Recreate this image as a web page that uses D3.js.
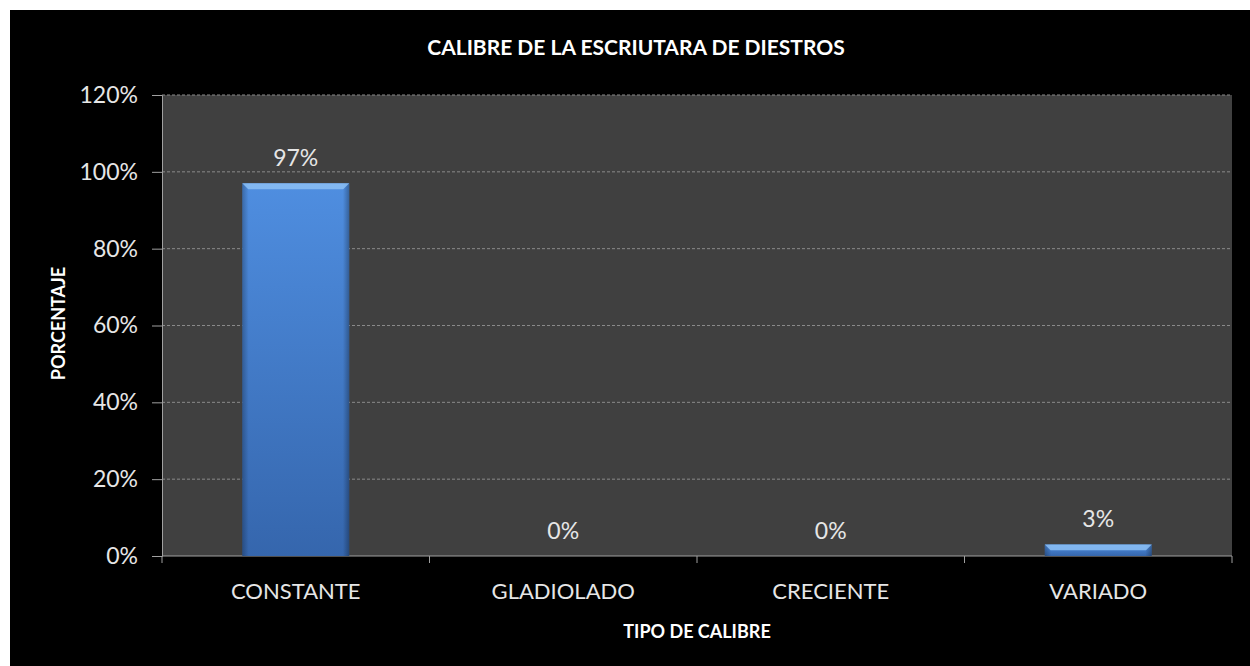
<!DOCTYPE html>
<html>
<head>
<meta charset="utf-8">
<script src="https://cdn.jsdelivr.net/npm/d3@7"></script>
<style>
  body { margin: 0; background: #fff; }
  text { font-family: Lato, "Open Sans", sans-serif; }
</style>
</head>
<body>
<div id="chart"></div>
<script>
var categories = ["CONSTANTE", "GLADIOLADO", "CRECIENTE", "VARIADO"];
var values = [0.97, 0, 0, 0.03];
var yTicks = [0, 0.2, 0.4, 0.6, 0.8, 1.0, 1.2];

var data = categories.map(function (c, i) {
    return { name: c, rate: values[i] };
});

var margin = { top: 95, right: 18, bottom: 110, left: 162 },
    width = 1250 - margin.left - margin.right,
    height = 666 - margin.top - margin.bottom;

var svg = d3.select("#chart").append("svg")
    .attr("width", 1250)
    .attr("height", 666);

// black chart area
svg.append("rect")
    .attr("x", 10).attr("y", 10)
    .attr("width", 1240).attr("height", 656)
    .attr("fill", "#000");

var defs = svg.append("defs");
var grad = defs.append("linearGradient")
    .attr("id", "barGrad")
    .attr("x1", 0).attr("x2", 0).attr("y1", 0).attr("y2", 1);
grad.append("stop").attr("offset", "0%").attr("stop-color", "#4f8ee0");
grad.append("stop").attr("offset", "100%").attr("stop-color", "#3566ad");

var hgrad = defs.append("linearGradient")
    .attr("id", "sideGrad")
    .attr("x1", 0).attr("x2", 1).attr("y1", 0).attr("y2", 0);
hgrad.append("stop").attr("offset", "0%").attr("stop-color", "#000").attr("stop-opacity", 0.25);
hgrad.append("stop").attr("offset", "6%").attr("stop-color", "#000").attr("stop-opacity", 0);
hgrad.append("stop").attr("offset", "94%").attr("stop-color", "#000").attr("stop-opacity", 0);
hgrad.append("stop").attr("offset", "100%").attr("stop-color", "#000").attr("stop-opacity", 0.3);

var g = svg.append("g")
    .attr("transform", "translate(" + margin.left + "," + margin.top + ")");

var x = d3.scaleBand()
    .domain(categories)
    .range([0, width])
    .paddingInner(0.6)
    .paddingOuter(0.3);

var y = d3.scaleLinear()
    .domain([0, 1.2])
    .range([height, 0]);

// plot background
g.append("rect")
    .attr("width", width)
    .attr("height", height)
    .attr("fill", "#404040");

// gridlines
g.append("g")
    .selectAll("line")
    .data(yTicks.filter(function (d) { return d > 0; }))
    .enter().append("line")
    .attr("x1", 0).attr("x2", width)
    .attr("y1", function (d) { return y(d); })
    .attr("y2", function (d) { return y(d); })
    .attr("stroke", "#8a8a8a")
    .attr("stroke-width", 1)
    .attr("stroke-dasharray", "3,2");

// y axis
var yAxis = d3.axisLeft(y)
    .tickValues(yTicks)
    .tickFormat(d3.format(".0%"))
    .tickSize(10)
    .tickPadding(14);

var ya = g.append("g").call(yAxis);
ya.select(".domain").attr("stroke", "#a0a0a0");
ya.selectAll(".tick line").attr("stroke", "#a0a0a0");
ya.selectAll(".tick text")
    .attr("fill", "#e6e6e6")
    .style("font-size", "23px");

// x axis
var step = x.step();
var xa = g.append("g").attr("transform", "translate(0," + height + ")");
xa.append("line")
    .attr("x1", 0).attr("x2", width)
    .attr("stroke", "#a0a0a0");
xa.selectAll(".sep")
    .data(d3.range(categories.length + 1))
    .enter().append("line")
    .attr("x1", function (i) { return i * step; })
    .attr("x2", function (i) { return i * step; })
    .attr("y1", 0).attr("y2", 7)
    .attr("stroke", "#a0a0a0");
xa.selectAll(".lbl")
    .data(categories)
    .enter().append("text")
    .attr("x", function (d) { return x(d) + x.bandwidth() / 2; })
    .attr("y", 43)
    .attr("text-anchor", "middle")
    .attr("fill", "#e6e6e6")
    .style("font-size", "22px")
    .text(function (d) { return d; });

// bars
var bars = g.selectAll(".bar")
    .data(data.filter(function (d) { return d.rate > 0; }))
    .enter().append("g")
    .attr("class", "bar");

bars.append("rect")
    .attr("x", function (d) { return x(d.name); })
    .attr("y", function (d) { return y(d.rate); })
    .attr("width", x.bandwidth())
    .attr("height", function (d) { return y(0) - y(d.rate); })
    .attr("fill", "url(#barGrad)");

bars.append("rect")
    .attr("x", function (d) { return x(d.name); })
    .attr("y", function (d) { return y(d.rate); })
    .attr("width", x.bandwidth())
    .attr("height", function (d) { return y(0) - y(d.rate); })
    .attr("fill", "url(#sideGrad)");

// top bevel
bars.append("path")
    .attr("d", function (d) {
        var x0 = x(d.name), x1 = x0 + x.bandwidth(), t = y(d.rate);
        var b = Math.min(6, (y(0) - t) / 2);
        return "M" + x0 + "," + t + "L" + x1 + "," + t +
            "L" + (x1 - b) + "," + (t + b) + "L" + (x0 + b) + "," + (t + b) + "Z";
    })
    .attr("fill", "#8cc0f5")
    .attr("opacity", 0.85);

// data labels
g.selectAll(".val")
    .data(data)
    .enter().append("text")
    .attr("x", function (d) { return x(d.name) + x.bandwidth() / 2; })
    .attr("y", function (d) { return y(d.rate) - 17; })
    .attr("text-anchor", "middle")
    .attr("fill", "#e6e6e6")
    .style("font-size", "23px")
    .text(function (d) { return d3.format(".0%")(d.rate); });

// titles
svg.append("text")
    .attr("x", 636).attr("y", 55)
    .attr("text-anchor", "middle")
    .attr("fill", "#fff")
    .style("font-size", "21px")
    .style("font-weight", "bold")
    .text("CALIBRE DE LA ESCRIUTARA DE DIESTROS");

svg.append("text")
    .attr("x", margin.left + width / 2).attr("y", 638)
    .attr("text-anchor", "middle")
    .attr("fill", "#fff")
    .style("font-size", "18px")
    .style("font-weight", "bold")
    .text("TIPO DE CALIBRE");

svg.append("text")
    .attr("transform", "translate(65," + (margin.top + height / 2 - 2) + ") rotate(-90)")
    .attr("text-anchor", "middle")
    .attr("fill", "#fff")
    .style("font-size", "18px")
    .style("font-weight", "bold")
    .text("PORCENTAJE");
</script>
</body>
</html>
